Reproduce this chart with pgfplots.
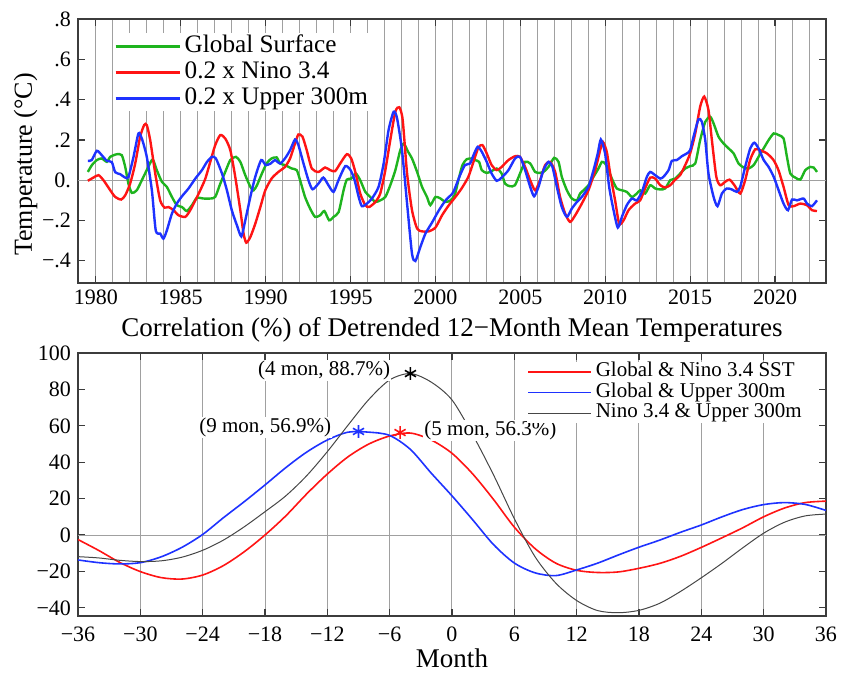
\documentclass[border=0pt]{standalone}
\usepackage{fontspec}
\setmainfont{Liberation Serif}
\usepackage{pgfplots}
\pgfplotsset{compat=1.18}
\usepackage{pgfplotstable}

\definecolor{cgreen}{RGB}{30,180,30}
\definecolor{cred}{RGB}{255,20,20}
\definecolor{cblue}{RGB}{30,50,255}
\definecolor{cgrid}{RGB}{160,160,160}
\definecolor{cframe}{RGB}{60,60,60}
\definecolor{cblack}{RGB}{70,70,70}

% Global surface (12-month mean, detrended)
\pgfplotstableread{
yr val
1979.53 0.041
1979.77 0.075
1980.06 0.100
1980.35 0.108
1980.65 0.091
1980.85 0.116
1981.24 0.129
1981.53 0.124
1981.73 0.066
1981.92 -0.017
1982.12 -0.063
1982.41 -0.050
1982.71 0.000
1983.00 0.050
1983.34 0.103
1983.59 0.050
1983.89 -0.008
1984.18 -0.033
1984.48 -0.083
1984.77 -0.124
1985.07 -0.133
1985.36 -0.153
1985.66 -0.124
1985.95 -0.088
1986.35 -0.091
1986.74 -0.091
1987.03 -0.083
1987.33 -0.017
1987.62 0.041
1987.92 0.100
1988.25 0.116
1988.51 0.091
1988.80 0.025
1989.10 -0.033
1989.29 -0.050
1989.49 -0.025
1989.78 0.033
1990.07 0.085
1990.35 0.108
1990.65 0.113
1990.85 0.083
1991.14 0.075
1991.54 0.058
1991.83 0.050
1992.03 0.000
1992.32 -0.083
1992.62 -0.141
1992.91 -0.182
1993.21 -0.174
1993.46 -0.153
1993.74 -0.199
1994.00 -0.182
1994.30 -0.158
1994.59 -0.050
1994.78 0.003
1995.04 0.008
1995.31 0.033
1995.57 0.000
1995.87 -0.058
1996.16 -0.083
1996.46 -0.108
1996.75 -0.100
1997.05 -0.083
1997.34 -0.025
1997.64 0.050
1997.93 0.149
1998.13 0.182
1998.39 0.141
1998.62 0.108
1998.92 0.041
1999.21 -0.033
1999.50 -0.083
1999.70 -0.124
2000.00 -0.083
2000.30 -0.091
2000.59 -0.108
2000.89 -0.100
2001.15 -0.070
2001.35 0.000
2001.59 0.075
2001.84 0.104
2002.14 0.108
2002.33 0.100
2002.57 0.091
2002.73 0.050
2003.02 0.036
2003.31 0.045
2003.61 0.058
2003.90 0.033
2004.10 -0.017
2004.39 -0.030
2004.68 -0.025
2004.98 0.033
2005.28 0.091
2005.58 0.083
2005.87 0.041
2006.16 0.036
2006.36 0.041
2006.66 0.066
2006.99 0.111
2007.25 0.091
2007.44 0.017
2007.74 -0.050
2008.03 -0.091
2008.33 -0.100
2008.52 -0.066
2008.72 -0.050
2009.01 -0.025
2009.31 0.017
2009.60 0.058
2009.80 0.091
2009.99 0.083
2010.19 0.050
2010.43 0.000
2010.68 -0.041
2010.98 -0.050
2011.27 -0.058
2011.57 -0.083
2011.86 -0.066
2012.06 -0.050
2012.35 -0.066
2012.65 -0.025
2012.94 -0.041
2013.24 -0.046
2013.53 -0.041
2013.83 0.000
2014.12 0.008
2014.41 0.033
2014.71 0.058
2015.00 0.070
2015.30 0.083
2015.59 0.199
2015.89 0.290
2016.18 0.315
2016.38 0.282
2016.67 0.216
2016.97 0.182
2017.26 0.158
2017.56 0.133
2017.85 0.083
2018.15 0.063
2018.44 0.058
2018.74 0.075
2019.03 0.116
2019.33 0.158
2019.62 0.199
2019.92 0.232
2020.21 0.224
2020.50 0.207
2020.70 0.116
2020.90 0.033
2021.19 0.013
2021.49 0.003
2021.78 0.050
2022.08 0.066
2022.27 0.063
2022.47 0.041
}\tglobal

% 0.2 x Nino 3.4
\pgfplotstableread{
yr val
1979.53 -0.003
1979.86 0.013
1980.16 0.025
1980.45 0.000
1980.85 -0.050
1981.14 -0.083
1981.49 -0.096
1981.73 -0.075
1982.02 -0.017
1982.32 0.083
1982.61 0.216
1982.85 0.274
1983.00 0.274
1983.20 0.200
1983.50 0.033
1983.79 -0.100
1984.05 -0.136
1984.28 -0.133
1984.58 -0.149
1984.87 -0.174
1985.27 -0.182
1985.56 -0.149
1985.86 -0.100
1986.15 -0.050
1986.45 0.008
1986.74 0.091
1987.03 0.174
1987.33 0.224
1987.62 0.207
1987.92 0.149
1988.21 0.017
1988.51 -0.149
1988.70 -0.265
1988.86 -0.310
1989.10 -0.282
1989.39 -0.216
1989.69 -0.133
1989.98 -0.050
1990.35 0.008
1990.75 0.041
1991.14 0.066
1991.44 0.108
1991.73 0.182
1991.93 0.227
1992.17 0.216
1992.42 0.149
1992.72 0.058
1993.11 0.041
1993.50 0.063
1993.80 0.050
1994.09 0.045
1994.39 0.083
1994.78 0.129
1995.04 0.108
1995.28 0.041
1995.57 -0.066
1995.87 -0.124
1996.10 -0.133
1996.46 -0.108
1996.75 -0.066
1997.05 0.050
1997.34 0.199
1997.64 0.340
1997.87 0.362
1998.07 0.300
1998.33 0.033
1998.62 -0.149
1998.92 -0.240
1999.21 -0.254
1999.60 -0.254
2000.00 -0.235
2000.39 -0.174
2000.79 -0.124
2001.15 -0.086
2001.54 -0.041
2001.94 0.017
2002.24 0.091
2002.53 0.163
2002.77 0.174
2003.02 0.133
2003.31 0.075
2003.61 0.050
2003.90 0.066
2004.30 0.100
2004.69 0.119
2004.98 0.116
2005.28 0.066
2005.58 0.000
2005.87 -0.050
2006.16 0.000
2006.46 0.075
2006.75 0.091
2007.05 0.041
2007.34 -0.083
2007.64 -0.166
2007.93 -0.207
2008.23 -0.174
2008.62 -0.116
2009.01 -0.050
2009.41 0.050
2009.70 0.149
2009.86 0.190
2010.09 0.141
2010.29 0.033
2010.58 -0.100
2010.82 -0.216
2011.08 -0.199
2011.37 -0.149
2011.76 -0.116
2012.06 -0.100
2012.35 -0.040
2012.65 0.013
2012.94 0.008
2013.24 -0.025
2013.53 -0.036
2013.83 -0.025
2014.12 0.003
2014.41 0.025
2014.71 0.075
2015.00 0.133
2015.30 0.232
2015.59 0.365
2015.83 0.415
2016.08 0.348
2016.28 0.199
2016.54 0.017
2016.77 -0.025
2017.06 -0.008
2017.32 0.003
2017.61 -0.025
2017.95 -0.066
2018.24 0.000
2018.53 0.100
2018.83 0.153
2019.12 0.149
2019.52 0.133
2019.91 0.100
2020.20 0.050
2020.50 -0.033
2020.80 -0.124
2021.09 -0.129
2021.49 -0.116
2021.88 -0.124
2022.18 -0.149
2022.47 -0.153
}\tnino

% 0.2 x Upper 300m
\pgfplotstableread{
yr val
1979.53 0.096
1979.76 0.100
1980.06 0.146
1980.35 0.124
1980.65 0.096
1980.94 0.090
1981.14 0.040
1981.43 0.030
1981.73 0.013
1981.92 0.016
1982.22 0.116
1982.51 0.232
1982.71 0.207
1983.00 0.116
1983.30 -0.050
1983.53 -0.250
1983.79 -0.265
1983.98 -0.290
1984.18 -0.250
1984.48 -0.166
1984.77 -0.116
1985.07 -0.080
1985.46 -0.041
1985.86 0.008
1986.25 0.050
1986.54 0.090
1986.84 0.116
1987.07 0.108
1987.43 0.033
1987.72 -0.050
1988.01 -0.150
1988.31 -0.224
1988.57 -0.279
1988.80 -0.200
1989.10 -0.083
1989.39 0.017
1989.74 0.100
1990.00 0.075
1990.30 0.083
1990.55 0.100
1990.85 0.083
1991.14 0.108
1991.44 0.149
1991.73 0.202
1991.93 0.174
1992.23 0.083
1992.52 0.000
1992.76 -0.045
1993.11 -0.017
1993.40 0.013
1993.70 -0.025
1994.00 -0.058
1994.29 0.000
1994.69 0.070
1995.00 0.050
1995.24 0.000
1995.48 -0.083
1995.67 -0.129
1995.96 -0.116
1996.26 -0.091
1996.65 -0.033
1996.95 0.083
1997.24 0.249
1997.54 0.340
1997.74 0.307
1998.03 0.149
1998.33 -0.116
1998.62 -0.365
1998.82 -0.401
1999.11 -0.332
1999.41 -0.265
1999.80 -0.210
2000.20 -0.150
2000.60 -0.100
2001.00 -0.066
2001.15 -0.040
2001.45 0.025
2001.74 0.075
2002.04 0.083
2002.24 0.124
2002.49 0.166
2002.73 0.141
2003.02 0.091
2003.31 0.033
2003.61 -0.003
2003.90 0.013
2004.30 0.050
2004.69 0.108
2004.98 0.116
2005.28 0.050
2005.58 -0.033
2005.81 -0.080
2006.07 -0.033
2006.36 0.050
2006.66 0.091
2006.89 0.066
2007.15 -0.033
2007.44 -0.133
2007.74 -0.182
2008.03 -0.141
2008.33 -0.108
2008.62 -0.083
2009.01 -0.033
2009.31 0.050
2009.56 0.133
2009.74 0.202
2009.99 0.133
2010.23 -0.033
2010.49 -0.149
2010.74 -0.235
2010.98 -0.182
2011.27 -0.124
2011.57 -0.091
2011.86 -0.100
2012.16 -0.058
2012.45 0.017
2012.65 0.041
2012.94 0.025
2013.24 0.008
2013.43 0.017
2013.73 0.050
2013.92 0.096
2014.22 0.100
2014.51 0.119
2014.81 0.133
2015.00 0.149
2015.20 0.216
2015.49 0.302
2015.69 0.290
2015.89 0.199
2016.08 0.033
2016.38 -0.083
2016.61 -0.129
2016.87 -0.066
2017.16 -0.041
2017.46 -0.046
2017.75 -0.058
2017.95 -0.033
2018.24 0.066
2018.54 0.158
2018.78 0.186
2019.03 0.158
2019.33 0.100
2019.62 0.066
2019.92 0.017
2020.21 -0.050
2020.50 -0.116
2020.76 -0.149
2021.00 -0.096
2021.29 -0.100
2021.68 -0.091
2021.88 -0.116
2022.17 -0.129
2022.47 -0.100
}\tupper

% lag correlations (%)
\pgfplotstableread{
lag gn gu nu
-36 -2.5 -13.7 -11.9
-34 -8.5 -15.2 -12.6
-32 -15.0 -15.9 -13.9
-30 -20.1 -15.2 -14.6
-28 -23.4 -12.0 -14.2
-26 -24.2 -6.8 -12.2
-24 -22.0 0.3 -8.4
-22 -16.8 9.5 -2.8
-20 -9.2 18.3 4.5
-18 0.0 27.5 12.8
-16 10.5 37.0 21.5
-14 22.5 45.5 32.5
-12 33.5 52.2 45.8
-10 43.0 56.5 60.4
-8 50.0 56.5 74.5
-6 54.4 54.7 85.2
-4 56.0 47.0 88.7
-2 52.2 34.0 84.0
0 44.9 21.5 74.2
2 33.5 8.3 55.0
4 19.5 -5.3 33.0
6 4.3 -15.4 9.0
8 -7.5 -20.8 -12.0
10 -15.5 -22.3 -26.5
12 -19.4 -19.2 -36.0
14 -20.6 -15.5 -41.5
16 -20.3 -11.0 -42.7
18 -18.3 -6.7 -41.4
20 -15.6 -2.8 -37.5
22 -11.7 1.5 -31.0
24 -6.8 5.5 -23.5
26 -1.5 10.0 -15.5
28 4.0 14.0 -7.0
30 10.0 16.7 1.0
32 14.8 17.8 7.0
34 17.8 16.8 10.5
36 18.6 13.5 11.5
}\tcorr

\pgfplotsset{
  panel/.style={
    scale only axis, width=374pt,
    axis line style={cframe, line width=0.8pt},
    tick style={cframe, line width=0.6pt},
    tick align=inside, major tick length=3.5pt, minor tick length=0pt,
    ticklabel style={font=\fontsize{11}{13}\selectfont},
    xticklabel style={anchor=base},
    grid style={cgrid, line width=0.5pt},
    minor grid style={cgrid, line width=0.5pt},
    extra y ticks={0}, extra y tick labels={},
    extra y tick style={grid=major, major tick length=0pt},
    legend cell align=left,
  },
}
\tikzset{note/.style={fill=white, inner sep=0.5pt, font=\fontsize{10.5}{12}\selectfont}}

\begin{document}
\begin{tikzpicture}
\useasboundingbox (0,0) rectangle (421pt,-336.5pt);

\begin{axis}[panel, at={(39pt,-9.5pt)}, anchor=north west, height=132pt,
  xmin=1978.95, xmax=2023, ymin=-0.51, ymax=0.8,
  xtick={1980,1985,...,2020},
  xticklabels={1980,1985,1990,1995,2000,2005,2010,2015,2020},
  xticklabel style={yshift=-11pt},
  minor xtick={1979,1980,...,2023},
  xminorgrids,
  ytick={-0.4,-0.2,0,0.2,0.4,0.6,0.8},
  yticklabels={−.4,−.2,0.,.2,.4,.6,.8},
  ylabel={Temperature (°C)},
  ylabel style={at={(axis description cs:0,0.449)}, anchor=base, yshift=23pt,
    font=\fontsize{13}{15}\selectfont},
  legend image code/.code={\draw[#1] (0pt,0pt) -- (32pt,0pt);},
  legend style={at={(rel axis cs:0.048,0.947)}, anchor=north west,
    draw=none, fill=white, inner sep=0pt, row sep=0pt,
    font=\fontsize{12.6}{13}\selectfont,
    nodes={inner xsep=2pt, inner ysep=0pt, text height=9.5pt, text depth=3.5pt}},
]
\addplot[cgreen, line width=1.2pt, smooth, tension=0.4] table[x=yr, y=val]{\tglobal};
\addlegendentry{Global Surface}
\addplot[cred, line width=1.2pt, smooth, tension=0.4] table[x=yr, y=val]{\tnino};
\addlegendentry{0.2 x Nino 3.4}
\addplot[cblue, line width=1.2pt, smooth, tension=0.4] table[x=yr, y=val]{\tupper};
\addlegendentry{0.2 x Upper 300m}
\end{axis}

\begin{axis}[panel, at={(39pt,-176.5pt)}, anchor=north west, height=131.5pt,
  xmin=-36, xmax=36, ymin=-44.5, ymax=100,
  xtick={-36,-30,...,36},
  xticklabels={−36,−30,−24,−18,−12,−6,0,6,12,18,24,30,36},
  xticklabel style={yshift=-13pt},
  xmajorgrids,
  ytick={-40,-20,...,100},
  yticklabels={−40,−20,0,20,40,60,80,100},
  title={Correlation (\%) of Detrended 12−Month Mean Temperatures},
  title style={at={(0.5,1)}, anchor=base, yshift=2pt, font=\fontsize{13.5}{15}\selectfont},
  xlabel={Month},
  xlabel style={at={(0.5,0)}, anchor=base, yshift=-26pt, font=\fontsize{13.5}{15}\selectfont},
  legend image code/.code={\draw[#1] (0pt,0pt) -- (31.5pt,0pt);},
  legend style={at={(rel axis cs:0.600,0.968)}, anchor=north west,
    draw=none, fill=white, inner sep=0pt, row sep=0pt,
    font=\fontsize{10.5}{11}\selectfont,
    nodes={inner xsep=2pt, inner ysep=0pt, text height=7.5pt, text depth=2.75pt}},
]
\addplot[cred, line width=0.8pt, smooth] table[x=lag, y=gn]{\tcorr};
\addlegendentry{Global \& Nino 3.4 SST}
\addplot[cblue, line width=0.8pt, smooth] table[x=lag, y=gu]{\tcorr};
\addlegendentry{Global \& Upper 300m}
\addplot[cblack, line width=0.5pt, smooth] table[x=lag, y=nu]{\tcorr};
\addlegendentry{Nino 3.4 \& Upper 300m}

\node[note, anchor=east, xshift=-9.5pt, yshift=1.5pt] at (axis cs:-4,88.7) {(4 mon, 88.7\%)};
\node[note, anchor=east, xshift=-13pt, yshift=2pt] at (axis cs:-9,56.9) {(9 mon, 56.9\%)};
\node[note, anchor=west, xshift=11.5pt, yshift=1pt] at (axis cs:-5,56.3) {(5 mon, 56.3\%)};

\addplot[only marks, mark=asterisk, mark size=3.2pt, black, line width=0.8pt, forget plot]
  coordinates {(-4,88.7)};
\addplot[only marks, mark=asterisk, mark size=3.2pt, cblue, line width=0.8pt, forget plot]
  coordinates {(-9,56.9)};
\addplot[only marks, mark=asterisk, mark size=3.2pt, cred, line width=0.8pt, forget plot]
  coordinates {(-5,56.3)};
\end{axis}
\end{tikzpicture}
\end{document}
